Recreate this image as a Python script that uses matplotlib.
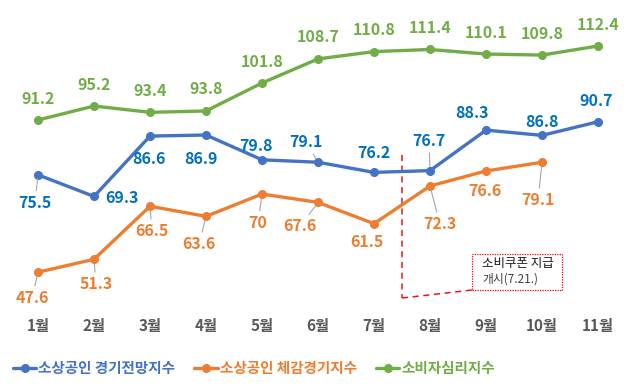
import matplotlib
matplotlib.use("Agg")
import matplotlib.pyplot as plt
from matplotlib.patches import Rectangle

plt.rcParams["font.family"] = ["Noto Sans CJK KR", "DejaVu Sans"]

months = ["1월", "2월", "3월", "4월", "5월", "6월", "7월", "8월", "9월", "10월", "11월"]
outlook = [75.5, 69.3, 86.6, 86.9, 79.8, 79.1, 76.2, 76.7, 88.3, 86.8, 90.7]
perceived = [47.6, 51.3, 66.5, 63.6, 70, 67.6, 61.5, 72.3, 76.6, 79.1]
consumer = [91.2, 95.2, 93.4, 93.8, 101.8, 108.7, 110.8, 111.4, 110.1, 109.8, 112.4]

names = ["소상공인 경기전망지수", "소상공인 체감경기지수", "소비자심리지수"]
line_colors = ["#4472c4", "#ed7d31", "#70ad47"]
label_colors = ["#0070c0", "#ed7d31", "#70ad47"]

# label offsets in pixels (dx, dy up); leader = thin grey line
outlook_offsets = [(-3, -28), (28, -2), (-1, -23), (-5, -24), (-6, 14), (-12, 20),
                   (0, 19), (-1, 30), (-14, 17), (0, 13), (-2, 21)]
outlook_leader = [True, False, False, False, False, True, False, True, False, False, False]
perceived_offsets = [(-6, -26), (2, -25), (2, -25), (-7, -28), (-4, -29), (-18, -24),
                     (-7, -18), (10, -38), (-1, -20), (-4, -38)]
perceived_leader = [True, True, True, True, True, True, False, True, False, True]
consumer_offsets = [(0, 21.5)] * len(consumer)
consumer_leader = [False] * len(consumer)

PX = 0.72  # points per pixel at dpi 100

fig = plt.figure(figsize=(6.35, 3.89), dpi=100)
ax = fig.add_axes([0.01575, 0.2141, 0.9701, 0.7807])
ax.set_xlim(0.5, 11.5)
ax.set_ylim(38, 125)

series = [(outlook, outlook_offsets, outlook_leader),
          (perceived, perceived_offsets, perceived_leader),
          (consumer, consumer_offsets, consumer_leader)]

handles = []
for (vals, offs, leads), name, lc, tc in zip(series, names, line_colors, label_colors):
    xs = list(range(1, len(vals) + 1))
    h, = ax.plot(xs, vals, color=lc, lw=2.4, marker="o", ms=5.5, label=name,
                 solid_capstyle="round", zorder=3)
    handles.append(h)
    for x, v, (dx, dy), lead in zip(xs, vals, offs, leads):
        arrow = None
        if lead:
            arrow = dict(arrowstyle="-", color="#a6a6a6", lw=0.8, shrinkA=1, shrinkB=3)
        ax.annotate(f"{v:g}", xy=(x, v), xytext=(dx * PX, dy * PX),
                    textcoords="offset points", ha="center", va="center",
                    fontsize=11.5, fontweight="bold", color=tc,
                    arrowprops=arrow, zorder=4)

# 소비쿠폰 marker line and note box
ax.plot([7.5, 7.5], [81.2, 40.2], color="#e81818", lw=1.1, ls=(0, (4, 3)), zorder=2)
ax.plot([7.5, 8.75], [40.2, 42.5], color="#e81818", lw=1.1, ls=(0, (4, 3)), zorder=2)
ax.add_patch(Rectangle((8.75, 42.5), 1.607, 10.31, fill=True, fc="white",
                       ec="#ff0000", lw=0.9, ls=(0, (1, 1)), zorder=2))
ax.text(8.93, 50.0, "소비쿠폰 지급", fontsize=9, color="#1a1a1a",
        ha="left", va="center", zorder=3)
ax.text(8.93, 45.6, "개시(7.21.)", fontsize=8.5, color="#404040",
        ha="left", va="center", zorder=3)

ax.set_xticks(range(1, len(months) + 1))
ax.set_xticklabels(months, fontsize=11, fontweight="bold", color="#595959")
ax.tick_params(axis="x", length=0, pad=8.6)
ax.set_yticks([])
for side in ax.spines.values():
    side.set_visible(False)

leg = fig.legend(handles=handles, loc="center", bbox_to_anchor=(0.4, 0.054), ncol=3,
                 frameon=False, handlelength=1.6, handletextpad=0.15, columnspacing=1.3,
                 prop={"size": 10.5, "weight": "bold"})
for text, c in zip(leg.get_texts(), line_colors):
    text.set_color(c)

fig.savefig("out.png", dpi=100)
